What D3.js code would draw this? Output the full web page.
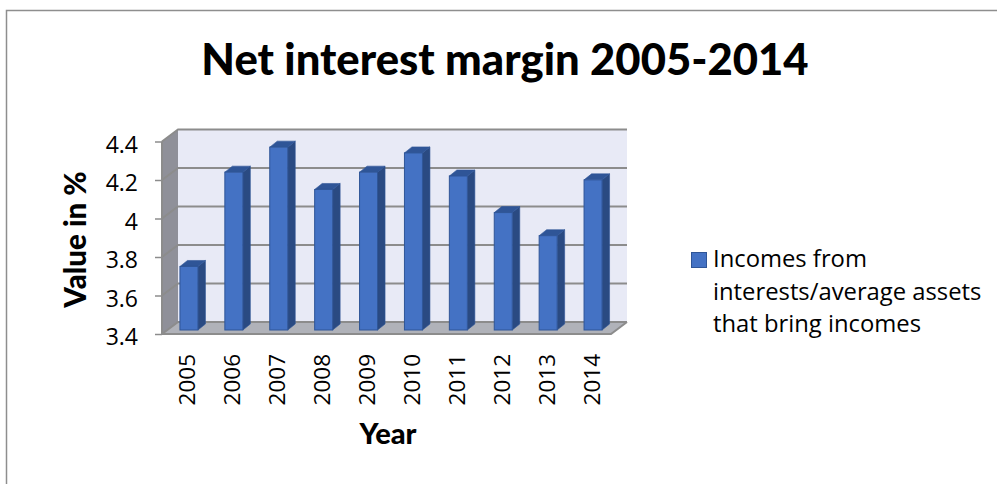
<!DOCTYPE html>
<html>
<head>
<meta charset="utf-8">
<script src="https://cdn.jsdelivr.net/npm/d3@7/dist/d3.min.js"></script>
<style>
html,body{margin:0;padding:0;background:#fff;overflow:hidden}
svg{display:block}
text{font-family:"Open Sans",sans-serif;fill:#000}
text.heading{font-family:Lato,sans-serif;font-weight:900}
</style>
</head>
<body>
<svg id="chart" width="997" height="484"></svg>
<script>
// Net interest margin by year
const years = ["2005","2006","2007","2008","2009","2010","2011","2012","2013","2014"];
const margins = [3.73,4.22,4.35,4.13,4.22,4.32,4.2,4.01,3.89,4.18];
const valueTicks = [3.4,3.6,3.8,4,4.2,4.4];
const seriesName = ["Incomes from","interests/average assets","that bring incomes"];

const svg = d3.select("#chart");

// Outer frame, open on the right and bottom
svg.append("path").attr("d","M6.5 484V10.5H997").attr("fill","none").attr("stroke","#8e8e8e").attr("stroke-width",1.5);

// Front plane of the pseudo-3D box and the depth offset to its back wall
const x = d3.scaleBand().domain(years).range([162,611]);
const y = d3.scaleLinear().domain([3.4,4.4]).range([334,141.5]);
const depth = {dx:16, dy:-12};
const yBot = y(3.4), yTop = y(4.4), xL = x.range()[0], xR = x.range()[1];

// Back wall
svg.append("rect").attr("x",xL+depth.dx).attr("y",yTop+depth.dy)
  .attr("width",xR-xL).attr("height",yBot-yTop).attr("fill","#e8eaf6");
// Side wall
svg.append("path").attr("fill","#8f9099")
  .attr("d",`M${xL} ${yTop}L${xL+depth.dx} ${yTop+depth.dy}V${yBot+depth.dy}L${xL} ${yBot}Z`);
// Floor
svg.append("path").attr("fill","#b0b2b9")
  .attr("d",`M${xL} ${yBot}L${xL+depth.dx} ${yBot+depth.dy}H${xR+depth.dx}L${xR} ${yBot}Z`);

// Gridlines run along the side wall and across the back wall
svg.append("g").selectAll("path").data(valueTicks).join("path")
  .attr("fill","none").attr("stroke","#8c8c8c").attr("stroke-width",2)
  .attr("d",v=>`M${xL} ${y(v)}L${xL+depth.dx} ${y(v)+depth.dy}H${xR+depth.dx}`);
// Edges of the side wall and the floor front
svg.append("path").attr("fill","none").attr("stroke","#8c8c8c").attr("stroke-width",2)
  .attr("d",`M${xL} ${yTop}V${yBot}H${xR}L${xR+depth.dx} ${yBot+depth.dy}`);

// Columns: front face, side face, top face
const barW = 18, barDx = 7.5, barDy = -6, barBase = yBot-4;
const by = v => barBase-(y(3.4)-y(v));
const bars = svg.append("g").selectAll("g").data(years.map((yr,i)=>({yr,v:margins[i]}))).join("g");
const bx = d => x(d.yr)+(x.bandwidth()-barW)/2+4.5;
bars.append("path").attr("fill","#2a4a82").attr("stroke","#2f5597").attr("stroke-width",.6)
  .attr("d",d=>`M${bx(d)+barW} ${by(d.v)}l${barDx} ${barDy}V${barBase+barDy}l${-barDx} ${-barDy}Z`);
bars.append("path").attr("fill","#2f5597").attr("stroke","#2f5597").attr("stroke-width",.6)
  .attr("d",d=>`M${bx(d)} ${by(d.v)}l${barDx} ${barDy}h${barW}l${-barDx} ${-barDy}Z`);
bars.append("rect").attr("x",bx).attr("y",d=>by(d.v)).attr("width",barW)
  .attr("height",d=>barBase-by(d.v)).attr("fill","#4472c4").attr("stroke","#2f5597").attr("stroke-width",1);

// Value axis
const yAxis = svg.append("g").attr("transform",`translate(${xL},0)`)
  .call(d3.axisLeft(y).tickValues(valueTicks).tickFormat(d3.format("~g")).tickSize(7).tickPadding(17));
yAxis.select(".domain").remove();
yAxis.selectAll("line").attr("stroke","#8c8c8c").attr("stroke-width",1.5);
yAxis.selectAll("text").attr("font-size",23).attr("dy","0.46em").style("font-family",'"Open Sans",sans-serif');

// Year axis with rotated labels
const xAxis = svg.append("g").attr("transform",`translate(0,${yBot})`)
  .call(d3.axisBottom(x).tickSize(0));
xAxis.select(".domain").remove();
xAxis.selectAll("text").attr("font-size",22.5).style("font-family",'"Open Sans",sans-serif')
  .attr("text-anchor","end").attr("dy",null).attr("y",0).attr("x",0)
  .attr("transform","translate(11,20) rotate(-90)");

// Titles
svg.append("text").attr("class","heading").attr("x",505).attr("y",75).attr("text-anchor","middle")
  .attr("font-size",43.6).text("Net interest margin 2005-2014");
svg.append("text").attr("class","heading").attr("transform","translate(86,239.5) rotate(-90)").attr("text-anchor","middle")
  .attr("font-size",29.5).text("Value in %");
svg.append("text").attr("class","heading").attr("x",388).attr("y",444).attr("text-anchor","middle")
  .attr("font-size",29).text("Year");

// Legend
svg.append("rect").attr("x",691.5).attr("y",252.5).attr("width",15).attr("height",15)
  .attr("fill","#4472c4").attr("stroke","#2f5597");
svg.append("g").selectAll("text").data(seriesName).join("text")
  .attr("x",713).attr("y",(d,i)=>267+i*32.7).attr("font-size",23.8).text(d=>d);
</script>
</body>
</html>
